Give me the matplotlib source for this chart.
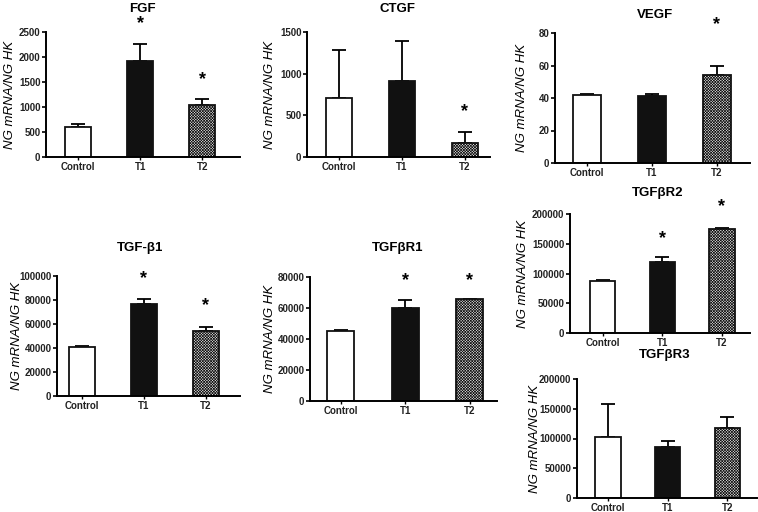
import matplotlib
matplotlib.use("Agg")
import matplotlib.pyplot as plt
import numpy as np

plt.rcParams['font.family'] = ['Liberation Sans', 'DejaVu Sans']
plt.rcParams['hatch.linewidth'] = 0.5

groups = ["Control", "T1", "T2"]

titles = ["FGF", "CTGF", "VEGF", "TGF-\u03b21", "TGF\u03b2R1", "TGF\u03b2R2", "TGF\u03b2R3"]

fgf_mean = [610, 1930, 1050]
fgf_err = [60, 340, 110]
fgf_star = [None, 2660, 1540]

ctgf_mean = [710, 910, 170]
ctgf_err = [580, 480, 125]
ctgf_star = [None, None, 540]

vegf_mean = [42, 41.5, 54]
vegf_err = [0.6, 1.2, 6]
vegf_star = [None, None, 85]

tgfb1_mean = [40500, 77000, 54500]
tgfb1_err = [1200, 3500, 3000]
tgfb1_star = [None, 98000, 75000]

tgfbr1_mean = [45000, 60000, 65500]
tgfbr1_err = [700, 5000, 500]
tgfbr1_star = [None, 77500, 77500]

tgfbr2_mean = [87000, 120000, 175000]
tgfbr2_err = [2500, 7000, 2000]
tgfbr2_star = [None, 158000, 212000]

tgfbr3_mean = [103000, 86000, 117000]
tgfbr3_err = [55000, 10000, 19000]
tgfbr3_star = [None, None, None]

yticks = [
    [0, 500, 1000, 1500, 2000, 2500],
    [0, 500, 1000, 1500],
    [0, 20, 40, 60, 80],
    [0, 20000, 40000, 60000, 80000, 100000],
    [0, 20000, 40000, 60000, 80000],
    [0, 50000, 100000, 150000, 200000],
    [0, 50000, 100000, 150000, 200000],
]

means = [fgf_mean, ctgf_mean, vegf_mean, tgfb1_mean, tgfbr1_mean, tgfbr2_mean, tgfbr3_mean]
errs = [fgf_err, ctgf_err, vegf_err, tgfb1_err, tgfbr1_err, tgfbr2_err, tgfbr3_err]
stars = [fgf_star, ctgf_star, vegf_star, tgfb1_star, tgfbr1_star, tgfbr2_star, tgfbr3_star]

W, H = 758, 512
fig = plt.figure(figsize=(W / 100, H / 100), dpi=100)

# layout in pixels: left, top, right, bottom
boxes = [
    (46, 32, 240, 157),
    (307, 32, 490, 157),
    (555, 33, 750, 163),
    (57, 276, 240, 396),
    (310, 277, 497, 401),
    (570, 214, 750, 333),
    (577, 379, 757, 498),
]
xlims = [(-0.52, 2.61), (-0.51, 2.40), (-0.49, 2.51), (-0.40, 2.55),
         (-0.48, 2.42), (-0.55, 2.47), (-0.52, 2.50)]
title_pos = [(142, 9), (398, 9), (655, 15), (140, 248), (398, 248), (658, 193), (665, 355)]
ylabel_x = [16, 276, 528, 23, 276, 529, 541]

faces = ["white", "#111111", "#e6e6e6"]
hatches = [None, None, "xxxxxxxxxxxx"]

for i in range(7):
    l, t, r, b = boxes[i]
    ax = fig.add_axes([l / W, 1 - b / H, (r - l) / W, (b - t) / H])
    x = np.arange(len(groups))
    m = means[i]
    e = errs[i]
    ax.errorbar(x, m, yerr=[np.zeros(3), e], fmt="none", ecolor="black",
                elinewidth=1.3, capsize=5, capthick=1.3, zorder=1)
    for j in range(3):
        ax.bar(x[j], m[j], width=0.42, color=faces[j], edgecolor="#111111",
               linewidth=1.3, hatch=hatches[j], zorder=2)
    ylim_top = yticks[i][-1]
    ax.set_ylim(0, ylim_top)
    ax.set_xlim(*xlims[i])
    ax.set_yticks(yticks[i])
    ax.set_xticks(x)
    ax.set_xticklabels(groups)
    for lab in ax.get_xticklabels() + ax.get_yticklabels():
        lab.set_fontweight("bold")
        lab.set_fontsize(7.0)
        lab.set_color("#222222")
    ax.tick_params(axis="y", direction="out", length=3, width=1.2, pad=1)
    ax.tick_params(axis="x", direction="out", length=2.5, width=1.0, pad=1)
    for s in ["top", "right"]:
        ax.spines[s].set_visible(False)
    for s in ["left", "bottom"]:
        ax.spines[s].set_linewidth(1.4)
    for j in range(3):
        if stars[i][j] is not None:
            ax.text(x[j], stars[i][j], "*", ha="center", va="center",
                    fontsize=13, fontweight="bold", clip_on=False)
    ax.set_ylabel("NG mRNA/NG HK", fontsize=9.5, fontstyle="italic")
    ax.yaxis.set_label_coords((ylabel_x[i] - l) / (r - l), 0.5)
    tx, ty = title_pos[i]
    fig.text(tx / W, 1 - ty / H, titles[i], ha="center", va="center",
             fontsize=9.5, fontweight="bold")

fig.savefig("out.png", dpi=100)
